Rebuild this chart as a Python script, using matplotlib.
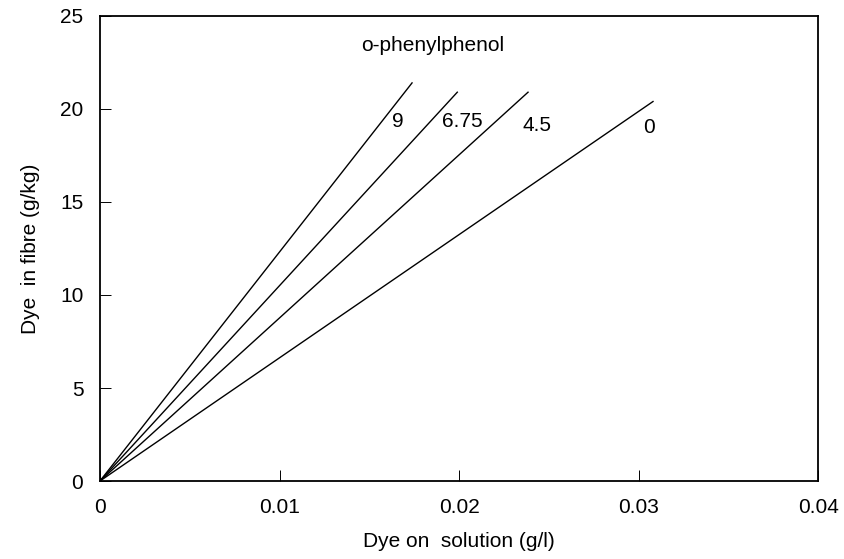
import matplotlib
matplotlib.use("Agg")
import matplotlib.pyplot as plt

# o-phenylphenol concentration for each isotherm line
opp_labels = ['9', '6.75', '4.5', '0']
# end points of each line (they all start at the origin)
sol_end = [0.01738, 0.0199, 0.02384, 0.0308]   # dye on solution (g/l)
fibre_end = [21.4, 20.9, 20.9, 20.4]           # dye in fibre (g/kg)
# label positions
label_x = [0.0166, 0.0202, 0.02435, 0.0306]
label_y = [19.3, 19.3, 19.1, 19.0]

x_ticks = [0, 0.01, 0.02, 0.03, 0.04]
x_ticklabels = ['0', '0.01', '0.02', '0.03', '0.04']
y_ticks = [0, 5, 10, 15, 20, 25]

plt.rcParams['font.family'] = ['Liberation Sans', 'DejaVu Sans']

fig = plt.figure(figsize=(8.45, 5.59), dpi=100)
ax = fig.add_axes([0.1183, 0.1395, 0.850, 0.832])

for i in range(len(opp_labels)):
    ax.plot([0, sol_end[i]], [0, fibre_end[i]], color='black', linewidth=1.0)
    ax.text(label_x[i], label_y[i], opp_labels[i], fontsize=15,
            ha='center', va='center')

ax.text(0.01855, 23.4, 'o-phenylphenol', fontsize=15, ha='center', va='center')

ax.set_xlim(0, 0.04)
ax.set_ylim(0, 25)
ax.set_xticks(x_ticks)
ax.set_xticklabels(x_ticklabels)
ax.set_yticks(y_ticks)
ax.tick_params(direction='in', length=8, width=0.7, labelsize=15, pad=12)

for s in ax.spines.values():
    s.set_linewidth(1.3)
    s.set_color('black')

ax.set_xlabel('Dye on  solution (g/l)', fontsize=15, labelpad=11)
ax.set_ylabel('Dye  in fibre (g/kg)', fontsize=15, labelpad=14)

fig.savefig('out.png', dpi=100)
